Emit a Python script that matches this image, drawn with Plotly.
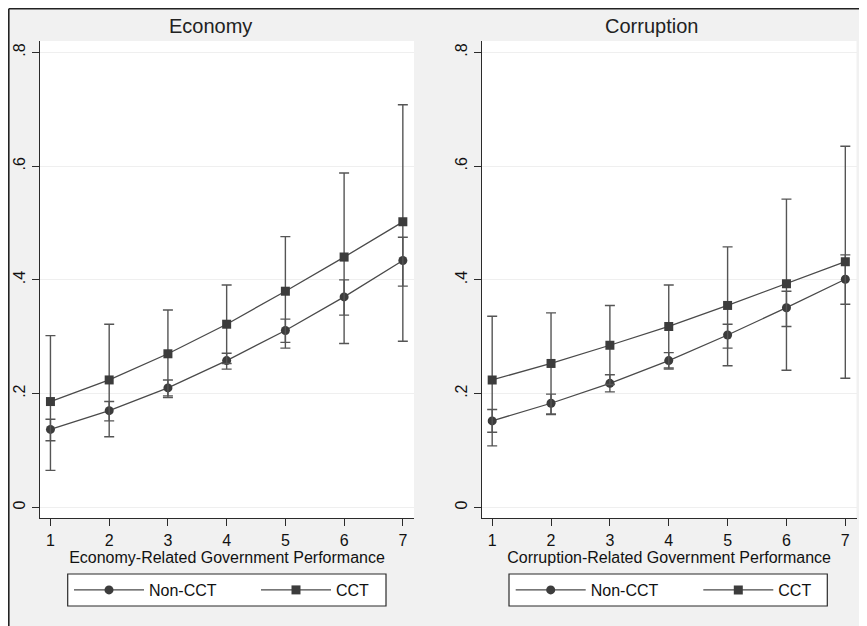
import plotly.graph_objects as go

# The page body adds an 8px margin, so the figure is 8px smaller and all
# reference page coordinates are shifted by -8px.
OFF = 8
W, H = 867 - OFF, 626 - OFF

x_vals = [1, 2, 3, 4, 5, 6, 7]
y_tickvals = [0, 0.2, 0.4, 0.6, 0.8]
y_ticktext = ["0", ".2", ".4", ".6", ".8"]

econ_noncct = [0.137, 0.170, 0.210, 0.258, 0.311, 0.370, 0.434]
econ_noncct_lo = [0.117, 0.152, 0.196, 0.243, 0.290, 0.338, 0.389]
econ_noncct_hi = [0.155, 0.186, 0.224, 0.271, 0.331, 0.400, 0.475]
econ_cct = [0.186, 0.224, 0.270, 0.322, 0.380, 0.440, 0.502]
econ_cct_lo = [0.065, 0.124, 0.193, 0.253, 0.280, 0.288, 0.292]
econ_cct_hi = [0.302, 0.322, 0.347, 0.391, 0.476, 0.588, 0.708]

corr_noncct = [0.152, 0.183, 0.218, 0.258, 0.303, 0.351, 0.401]
corr_noncct_lo = [0.132, 0.164, 0.203, 0.243, 0.280, 0.318, 0.357]
corr_noncct_hi = [0.172, 0.199, 0.233, 0.272, 0.322, 0.380, 0.444]
corr_cct = [0.224, 0.253, 0.285, 0.318, 0.355, 0.393, 0.432]
corr_cct_lo = [0.108, 0.163, 0.216, 0.245, 0.249, 0.241, 0.227]
corr_cct_hi = [0.336, 0.342, 0.355, 0.391, 0.458, 0.542, 0.635]

panel_titles = ["Economy", "Corruption"]
x_titles = ["Economy-Related Government Performance",
            "Corruption-Related Government Performance"]
series_names = ["Non-CCT", "CCT"]

FONT = "Liberation Sans, Arial, sans-serif"
LINE_C = "#4a4a4a"
MARK_C = "#3c3c3c"
AX_C = "#2b2b2b"


def px(v):
    return (v - OFF) / W


def py(v):
    return 1 - (v - OFF) / H


def trace(xa, ya, mean, lo, hi, name, symbol, legend):
    return go.Scatter(
        x=x_vals, y=mean, name=name, mode="lines+markers",
        xaxis=xa, yaxis=ya, legend=legend,
        line=dict(color=LINE_C, width=1.3),
        marker=dict(symbol=symbol, size=9, color=MARK_C),
        error_y=dict(type="data", symmetric=False,
                     array=[h - m for h, m in zip(hi, mean)],
                     arrayminus=[m - l for m, l in zip(mean, lo)],
                     color="#555555", thickness=1.4, width=5),
    )


fig = go.Figure()
fig.add_trace(trace("x", "y", econ_noncct, econ_noncct_lo, econ_noncct_hi,
                    series_names[0], "circle", "legend"))
fig.add_trace(trace("x", "y", econ_cct, econ_cct_lo, econ_cct_hi,
                    series_names[1], "square", "legend2"))
fig.add_trace(trace("x2", "y2", corr_noncct, corr_noncct_lo, corr_noncct_hi,
                    series_names[0], "circle", "legend3"))
fig.add_trace(trace("x2", "y2", corr_cct, corr_cct_lo, corr_cct_hi,
                    series_names[1], "square", "legend4"))

L = [px(40), px(414)]
R = [px(481.7), px(856.5)]
YD = [py(518.3), py(41)]

xcommon = dict(range=[0.822, 7.19], tickvals=x_vals, showline=True,
               linecolor=AX_C, linewidth=1.3, ticks="outside", ticklen=7,
               tickcolor=AX_C, showgrid=False, zeroline=False,
               tickfont=dict(size=16, color="#111", family=FONT))
ycommon = dict(range=[-0.0193, 0.82], tickvals=y_tickvals, ticktext=y_ticktext,
               showline=True, linecolor=AX_C, linewidth=1.3, ticks="outside",
               ticklen=7, tickcolor=AX_C, showgrid=True, gridcolor="#efefef",
               gridwidth=1, zeroline=False, tickangle=-90,
               tickfont=dict(size=16, color="#111", family=FONT))
xtitle_font = dict(size=16, color="#111", family=FONT)

legcommon = dict(orientation="h", bgcolor="rgba(0,0,0,0)", borderwidth=0,
                 font=dict(size=16, color="#111", family=FONT),
                 xanchor="left", yanchor="middle", y=py(590),
                 itemwidth=70, xref="paper", yref="paper")

fig.update_layout(
    width=W, height=H, margin=dict(l=0, r=0, t=0, b=0),
    paper_bgcolor="#f1f1f1", plot_bgcolor="white",
    font=dict(family=FONT, color="#111"),
    xaxis=dict(domain=L, anchor="y",
               title=dict(text=x_titles[0], font=xtitle_font, standoff=3), **xcommon),
    xaxis2=dict(domain=R, anchor="y2",
                title=dict(text=x_titles[1], font=xtitle_font, standoff=3), **xcommon),
    yaxis=dict(domain=YD, anchor="x", **ycommon),
    yaxis2=dict(domain=YD, anchor="x2", **ycommon),
    legend=dict(x=px(69), **legcommon),
    legend2=dict(x=px(256), **legcommon),
    legend3=dict(x=px(510.7), **legcommon),
    legend4=dict(x=px(698.3), **legcommon),
    showlegend=True,
    annotations=[
        dict(text=panel_titles[0], x=px(210), y=py(26), xref="paper", yref="paper",
             xanchor="center", yanchor="middle", showarrow=False,
             font=dict(size=20, color="#222", family=FONT)),
        dict(text=panel_titles[1], x=px(651.7), y=py(26), xref="paper", yref="paper",
             xanchor="center", yanchor="middle", showarrow=False,
             font=dict(size=20, color="#222", family=FONT)),
    ],
    shapes=[
        dict(type="rect", xref="paper", yref="paper", x0=px(67.7), x1=px(386),
             y0=py(606), y1=py(574), fillcolor="white",
             line=dict(color=AX_C, width=1.2), layer="below"),
        dict(type="rect", xref="paper", yref="paper", x0=px(509), x1=px(827.3),
             y0=py(606), y1=py(574), fillcolor="white",
             line=dict(color=AX_C, width=1.2), layer="below"),
        dict(type="line", xref="paper", yref="paper", x0=0.8 / W, x1=1.01,
             y0=1 - 0.8 / H, y1=1 - 0.8 / H, line=dict(color="#222", width=1.6)),
        dict(type="line", xref="paper", yref="paper", x0=0.8 / W, x1=0.8 / W,
             y0=-0.01, y1=1 - 0.8 / H, line=dict(color="#222", width=1.6)),
    ],
)

fig.write_html("out.html")
